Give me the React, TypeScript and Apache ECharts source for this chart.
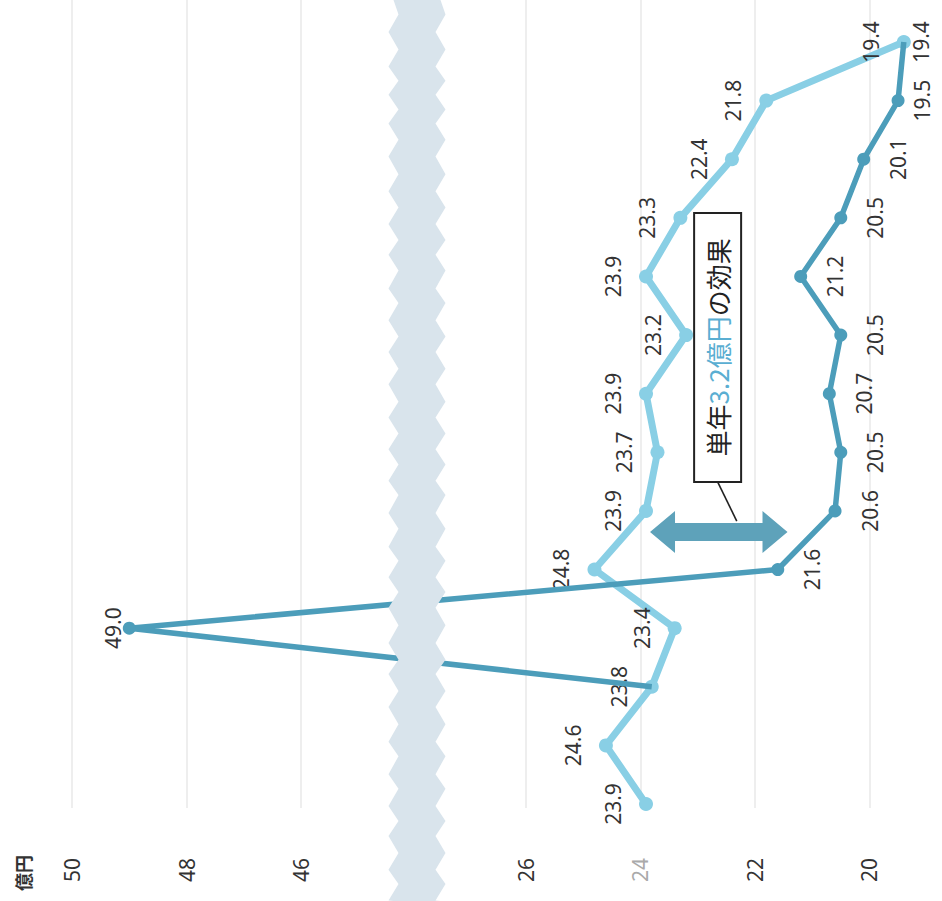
import React, { useEffect, useRef } from 'react';
import * as echarts from 'echarts';

// ---- data ----
const categories = ['1', '2', '3', '4', '5', '6', '7', '8', '9', '10', '11', '12', '13', '14'];
const lightValues: number[] = [23.9, 24.6, 23.8, 23.4, 24.8, 23.9, 23.7, 23.9, 23.2, 23.9, 23.3, 22.4, 21.8, 19.4];
const darkValues: (number | null)[] = [null, null, 23.8, 49.0, 21.6, 20.6, 20.5, 20.7, 20.5, 21.2, 20.5, 20.1, 19.5, 19.4];
const tickLabels: number[] = [20, 22, 24, 26, 46, 48, 50];
const axisMin = 18;
const axisMax = 50;
const tickStep = 2;
const breakStart = 27.5;
const breakEnd = 44.4;
const breakGap = 0.82;
const unitText = '億円';
const calloutLead = '単年';
const calloutAmount = '3.2億円';
const calloutTail = 'の効果';
// annotation anchors (value, fractional category position)
const arrowFrom = 23.83;
const arrowTo = 21.43;
const arrowAt = 4.64;
const boxValue = 22.65;
const boxAt = 7.79;

const FONT = "'Noto Sans', 'Noto Sans CJK JP', sans-serif";
const CJK = "'Noto Sans CJK JP', 'Noto Sans', sans-serif";
const LIGHT = '#89cfe5';
const DARK = '#4c9dba';
const ARROW = '#5ea2ba';
const TEXT = '#333333';

const isTickLabel = (v: number) => tickLabels.some((t) => Math.abs(t - v) < 1e-6);

function buildOption(): any {
  const breaks = [{ start: breakStart, end: breakEnd, gap: breakGap }];
  const firstDark = darkValues.findIndex((v) => v != null);
  const darkData = darkValues.map((v, i) => {
    if (v == null) return null;
    const shared = lightValues[i] === v;
    const item: any = { value: v };
    if (shared) item.symbolSize = 0;
    if (i === firstDark) item.label = { show: false };
    else if (v > breakEnd) item.label = { position: 'left', distance: 10 };
    else if (v < 20) item.label = { distance: 17 };
    return item;
  });
  const baseAxis = {
    type: 'value',
    inverse: true,
    min: axisMin,
    max: axisMax,
    interval: tickStep,
    breaks,
    breakLabelLayout: { moveOverlap: false },
    axisLine: { show: false },
    axisTick: { show: false },
  };
  return {
    animation: false,
    backgroundColor: '#ffffff',
    grid: [
      { left: 72, right: -42, top: 42, bottom: 97, outerBoundsMode: 'none', containLabel: false },
      { left: 72, right: -42, top: 0, bottom: 0, outerBoundsMode: 'none', containLabel: false },
      { left: 72, right: -42, top: 0, bottom: 93, outerBoundsMode: 'none', containLabel: false },
    ],
    xAxis: [
      {
        ...baseAxis,
        gridIndex: 0,
        breakArea: { show: false },
        splitLine: { show: false },
        axisLabel: { show: false },
      },
      {
        ...baseAxis,
        gridIndex: 1,
        breakArea: {
          show: true,
          itemStyle: { color: '#d9e4ec', borderColor: '#d9e4ec', borderWidth: 0, opacity: 1 },
          zigzagAmplitude: 5,
          zigzagMinSpan: 14,
          zigzagMaxSpan: 18,
          zigzagZ: 100,
          expandOnClick: false,
        },
        splitLine: { show: false },
        axisLabel: { show: false },
      },
      {
        ...baseAxis,
        gridIndex: 2,
        breakArea: { show: false },
        splitLine: { show: true, lineStyle: { color: '#e8e8e8', width: 1.5 } },
        axisLabel: {
          rotate: 90,
          margin: 50,
          fontSize: 21,
          fontFamily: FONT,
          color: (v: any) => (Number(v) === 24 ? '#aaaaaa' : TEXT),
          formatter: (v: number) => (isTickLabel(v) ? String(Math.round(v)) : ''),
        },
      },
    ],
    yAxis: [
      {
        type: 'category',
        gridIndex: 0,
        data: categories,
        boundaryGap: false,
        axisLine: { show: false },
        axisTick: { show: false },
        axisLabel: { show: false },
        splitLine: { show: false },
      },
      { type: 'value', gridIndex: 1, show: false, min: 0, max: 1 },
      { type: 'value', gridIndex: 2, show: false, min: 0, max: 1 },
    ],
    series: [
      {
        name: 'light',
        type: 'line',
        xAxisIndex: 0,
        yAxisIndex: 0,
        data: lightValues,
        z: 2,
        symbol: 'circle',
        symbolSize: 14,
        lineStyle: { color: LIGHT, width: 7 },
        itemStyle: { color: LIGHT, borderWidth: 0 },
        label: {
          show: true,
          position: 'left',
          distance: 26,
          rotate: 90,
          align: 'center',
          verticalAlign: 'middle',
          fontSize: 21,
          fontFamily: FONT,
          color: TEXT,
          formatter: (p: any) => Number(p.value).toFixed(1),
        },
      },
      {
        name: 'dark',
        type: 'line',
        xAxisIndex: 0,
        yAxisIndex: 0,
        data: darkData,
        z: 3,
        symbol: 'circle',
        symbolSize: 13,
        lineStyle: { color: DARK, width: 5.5 },
        itemStyle: { color: DARK, borderWidth: 0 },
        label: {
          show: true,
          position: 'right',
          distance: 28,
          rotate: 90,
          align: 'center',
          verticalAlign: 'middle',
          fontSize: 21,
          fontFamily: FONT,
          color: TEXT,
          formatter: (p: any) => {
            const v = Array.isArray(p.value) ? p.value[0] : p.value;
            return Number(v).toFixed(1);
          },
        },
      },
    ],
  };
}

export default function App() {
  const ref = useRef<HTMLDivElement>(null);
  useEffect(() => {
    document.body.style.margin = '0';
    const el = ref.current;
    if (!el) return;
    const chart = echarts.init(el, null, { renderer: 'svg' });
    chart.setOption(buildOption());

    const px = (v: number, idx: number): number[] =>
      chart.convertToPixel({ gridIndex: 0 }, [v, idx]) as number[];
    const xOf = (v: number) => px(v, 0)[0];
    const yAt = (pos: number) => {
      const i0 = Math.floor(pos);
      const y0 = px(axisMax, i0)[1];
      const y1 = px(axisMax, i0 + 1)[1];
      return y0 + (y1 - y0) * (pos - i0);
    };

    const xL = xOf(arrowFrom);
    const xR = xOf(arrowTo);
    const yc = yAt(arrowAt);
    const headLen = 25;
    const headHalf = 21;
    const shaftHalf = 9;
    const arrowPts = [
      [xL, yc],
      [xL + headLen, yc - headHalf],
      [xL + headLen, yc - shaftHalf],
      [xR - headLen, yc - shaftHalf],
      [xR - headLen, yc - headHalf],
      [xR, yc],
      [xR - headLen, yc + headHalf],
      [xR - headLen, yc + shaftHalf],
      [xL + headLen, yc + shaftHalf],
      [xL + headLen, yc + headHalf],
    ];

    const bx = xOf(boxValue);
    const by = yAt(boxAt);
    const boxW = 47;
    const boxH = 269;

    const yBottom = px(axisMax, 0)[1];
    const xTop = xOf(axisMax);

    chart.setOption({
      graphic: [
        {
          type: 'polygon',
          z: 50,
          shape: { points: arrowPts },
          style: { fill: ARROW },
        },
        {
          type: 'line',
          z: 51,
          shape: { x1: bx, y1: by + boxH / 2, x2: (xL + xR) / 2 + 18, y2: yc - shaftHalf - 2 },
          style: { stroke: '#222222', lineWidth: 1.6 },
        },
        {
          type: 'rect',
          z: 52,
          shape: { x: bx - boxW / 2, y: by - boxH / 2, width: boxW, height: boxH },
          style: { fill: '#ffffff', stroke: '#222222', lineWidth: 2 },
        },
        {
          type: 'text',
          z: 53,
          x: bx,
          y: by,
          rotation: Math.PI / 2,
          style: {
            text: `{a|${calloutLead}}{b|${calloutAmount}}{a|${calloutTail}}`,
            align: 'center',
            verticalAlign: 'middle',
            textAlign: 'center',
            textVerticalAlign: 'middle',
            rich: {
              a: { fontSize: 26, fontFamily: CJK, fill: '#222222', color: '#222222' },
              b: { fontSize: 26, fontFamily: CJK, fill: '#5aaed2', color: '#5aaed2' },
            },
          },
        },
        {
          type: 'text',
          z: 53,
          x: xTop - 49,
          y: yBottom + 69,
          rotation: Math.PI / 2,
          style: {
            text: unitText,
            align: 'center',
            verticalAlign: 'middle',
            textAlign: 'center',
            textVerticalAlign: 'middle',
            fontSize: 18,
            fontWeight: 'bold',
            fontFamily: CJK,
            fill: TEXT,
          },
        },
      ],
    });

    return () => chart.dispose();
  }, []);

  return <div ref={ref} style={{ width: 942, height: 901 }} />;
}
